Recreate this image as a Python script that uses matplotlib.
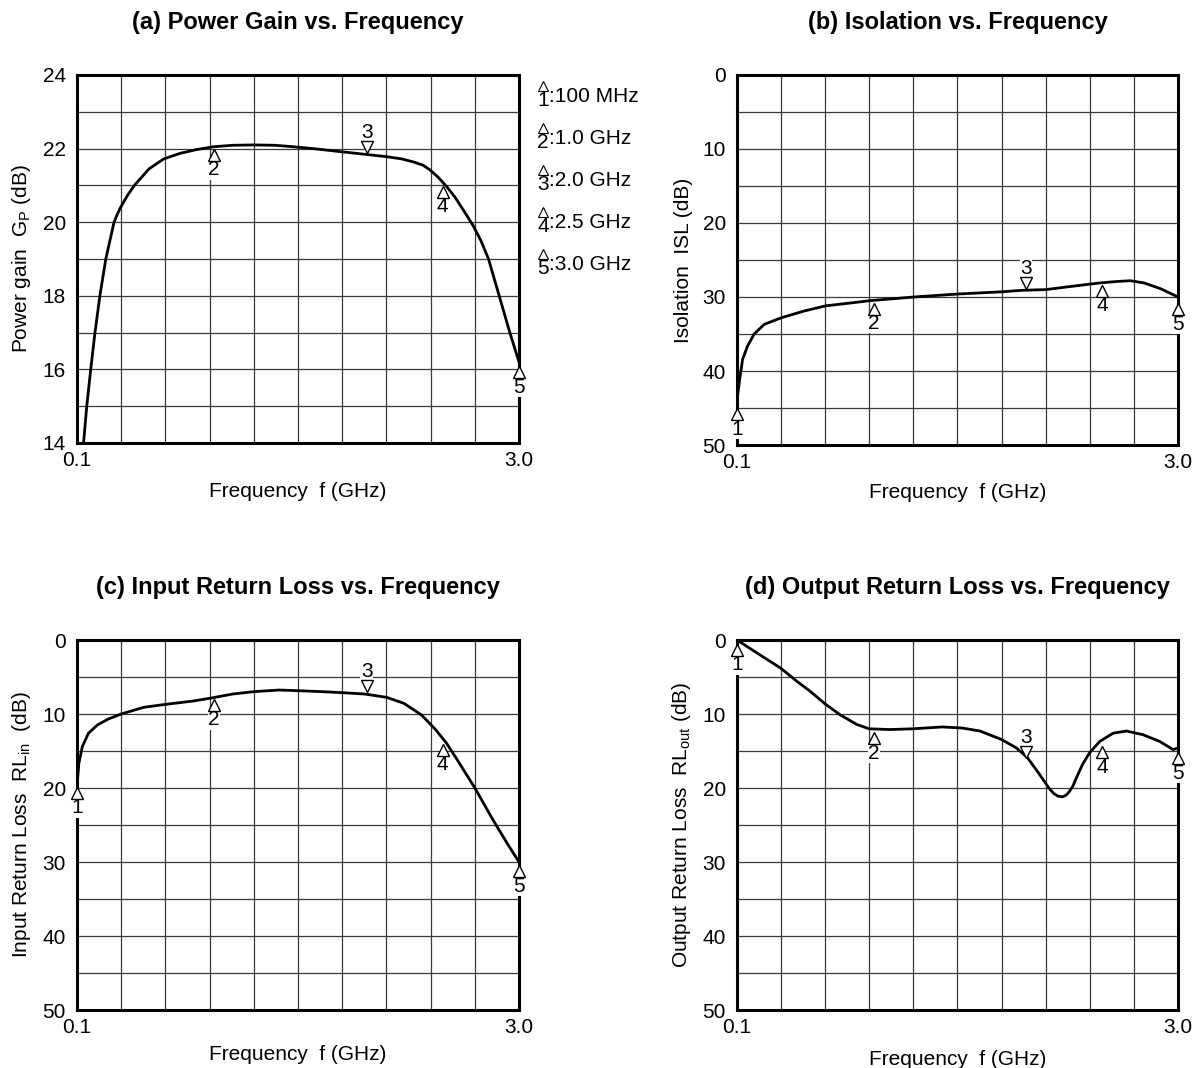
import numpy as np
import matplotlib
matplotlib.use("Agg")
import matplotlib.pyplot as plt
from matplotlib.lines import Line2D
from matplotlib.transforms import offset_copy

plt.rcParams['font.family'] = ['Liberation Sans', 'DejaVu Sans']
plt.rcParams['mathtext.fontset'] = 'custom'
plt.rcParams['mathtext.rm'] = 'Liberation Sans'
plt.rcParams['mathtext.it'] = 'Liberation Sans:italic'

# marker frequencies (GHz)
mk_freq = [0.1, 1.0, 2.0, 2.5, 3.0]
mk_names = ['100 MHz', '1.0 GHz', '2.0 GHz', '2.5 GHz', '3.0 GHz']

# (a) power gain
gain_f = [0.143, 0.164, 0.190, 0.218, 0.250, 0.289, 0.343, 0.365, 0.383, 0.43, 0.476, 0.573, 0.669,
          0.776, 0.88, 0.994, 1.12, 1.257, 1.40, 1.52, 1.65, 1.80, 1.978, 2.132, 2.23, 2.305,
          2.37, 2.416, 2.47, 2.525, 2.58, 2.635, 2.70, 2.75, 2.80, 2.87, 2.94, 3.0]
gain_db = [14.0, 15.0, 16.0, 17.0, 18.0, 19.0, 20.0, 20.22, 20.38, 20.72, 21.0, 21.45, 21.72,
           21.87, 21.97, 22.05, 22.09, 22.10, 22.09, 22.05, 22.0, 21.93, 21.85, 21.78, 21.72, 21.64,
           21.55, 21.42, 21.22, 20.97, 20.68, 20.33, 19.9, 19.5, 19.0, 18.0, 17.0, 16.2]
gain_mk = [None, 22.0, 21.86, 21.0, 16.1]

# (b) isolation
isl_f = [0.1, 0.103, 0.115, 0.137, 0.170, 0.213, 0.279, 0.392, 0.540, 0.682, 0.85, 0.971,
         1.262, 1.548, 1.838, 1.972, 2.129, 2.285, 2.486, 2.60, 2.687, 2.777, 2.888, 3.0]
isl_db = [45.0, 43.5, 41.5, 38.4, 36.6, 35.0, 33.7, 32.8, 31.9, 31.2, 30.8, 30.5,
          30.0, 29.6, 29.3, 29.1, 29.0, 28.6, 28.1, 27.9, 27.8, 28.1, 28.9, 30.0]
isl_mk = [45.0, 30.7, 29.0, 28.3, 30.8]

# (c) input return loss
rlin_f = [0.1, 0.112, 0.135, 0.175, 0.233, 0.303, 0.390, 0.537, 0.680, 0.865, 0.970, 1.122,
          1.260, 1.426, 1.550, 1.707, 1.842, 1.987, 2.132, 2.245, 2.361, 2.455, 2.525, 2.595,
          2.712, 2.829, 2.923, 3.0]
rlin_db = [19.8, 16.7, 14.4, 12.6, 11.5, 10.7, 10.0, 9.1, 8.7, 8.24, 7.88, 7.30,
           6.98, 6.76, 6.85, 6.98, 7.12, 7.30, 7.75, 8.56, 10.14, 12.16, 13.96, 16.2,
           20.05, 24.3, 27.5, 30.0]
rlin_mk = [19.8, 7.9, 7.1, 14.0, 30.4]

# (d) output return loss
rlout_f = [0.1, 0.235, 0.387, 0.495, 0.582, 0.680, 0.778, 0.886, 0.969, 1.104, 1.256, 1.451,
           1.582, 1.698, 1.84, 1.938, 2.01, 2.084, 2.151, 2.18, 2.21, 2.24, 2.265, 2.285,
           2.31, 2.33, 2.375, 2.42, 2.486, 2.573, 2.661, 2.77, 2.879, 2.967, 3.0]
rlout_db = [0.0, 1.8, 3.8, 5.6, 6.95, 8.65, 10.1, 11.4, 12.0, 12.1, 12.0, 11.75,
            11.9, 12.3, 13.45, 14.6, 15.9, 18.0, 20.0, 20.7, 21.1, 21.2, 20.95, 20.5,
            19.7, 18.7, 16.7, 15.2, 13.7, 12.6, 12.3, 12.8, 13.7, 14.8, 14.6]
rlout_mk = [0.45, 12.4, 16.0, 14.3, 15.1]

W, H = 1196, 1068
fig = plt.figure(figsize=(W / 100, H / 100), dpi=100)


def make_axes(left, top, right, bottom):
    return fig.add_axes([left / W, 1 - bottom / H, (right - left) / W, (bottom - top) / H])


def setup(ax, title, ylabel, ylim, ymajor, ystep, xlab_y):
    ax.set_xlim(0.1, 3.0)
    ax.set_ylim(*ylim)
    ax.set_xticks([0.1, 3.0])
    ax.set_xticklabels(['0.1', '3.0'])
    ax.set_xticks(np.linspace(0.1, 3.0, 11), minor=True)
    ax.set_yticks(ymajor)
    ax.set_yticks(np.arange(min(ylim), max(ylim) + 0.01, ystep), minor=True)
    ax.tick_params(which='both', length=0, labelsize=15)
    ax.tick_params(axis='y', pad=8)
    ax.tick_params(axis='x', pad=6)
    ax.grid(True, which='minor', color='#3a3a3a', lw=0.9)
    ax.grid(True, which='major', axis='y', color='#3a3a3a', lw=0.9)
    ax.set_axisbelow(True)
    for s in ax.spines.values():
        s.set_linewidth(2.2)
        s.set_color('black')
    ax.set_title(title, fontsize=17, fontweight='bold', pad=33)
    ax.set_xlabel('Frequency  f (GHz)', fontsize=15)
    ax.xaxis.set_label_coords(0.5, xlab_y)
    ax.xaxis.label.set_va('top')
    ax.set_ylabel(ylabel, fontsize=15)
    ax.yaxis.set_label_coords(-0.1, 0.5)


def markers(ax, vals):
    up = offset_copy(ax.transData, fig=fig, x=0, y=-4.6, units='points')
    dn = offset_copy(ax.transData, fig=fig, x=0, y=4.6, units='points')
    for i, (f, v) in enumerate(zip(mk_freq, vals)):
        if v is None:
            continue
        if i == 2:
            ax.plot([f], [v], marker='v', ms=9, mfc='white', mec='black', mew=1.0,
                    ls='none', transform=dn, clip_on=False, zorder=8)
            ax.annotate(str(i + 1), (f, v), xytext=(0, 8.5), textcoords='offset points',
                        ha='center', va='bottom', fontsize=15, zorder=7, annotation_clip=False,
                        bbox=dict(fc='white', ec='none', pad=0.3))
        else:
            ax.plot([f], [v], marker='^', ms=9, mfc='white', mec='black', mew=1.0,
                    ls='none', transform=up, clip_on=False, zorder=8)
            ax.annotate(str(i + 1), (f, v), xytext=(0, -8.5), textcoords='offset points',
                        ha='center', va='top', fontsize=15, zorder=7, annotation_clip=False,
                        bbox=dict(fc='white', ec='none', pad=0.3))


ax_a = make_axes(77, 75, 519, 443)
ax_b = make_axes(737, 75, 1178, 445)
ax_c = make_axes(77, 640, 519, 1010)
ax_d = make_axes(737, 640, 1178, 1010)

setup(ax_a, '(a) Power Gain vs. Frequency', r'Power gain  G$_\mathrm{P}$ (dB)',
      (14, 24), [14, 16, 18, 20, 22, 24], 1, -0.105)
setup(ax_b, '(b) Isolation vs. Frequency', 'Isolation  ISL (dB)',
      (50, 0), [0, 10, 20, 30, 40, 50], 5, -0.103)
setup(ax_c, '(c) Input Return Loss vs. Frequency', r'Input Return Loss  RL$_\mathrm{in}$  (dB)',
      (50, 0), [0, 10, 20, 30, 40, 50], 5, -0.095)
setup(ax_d, '(d) Output Return Loss vs. Frequency', r'Output Return Loss  RL$_\mathrm{out}$ (dB)',
      (50, 0), [0, 10, 20, 30, 40, 50], 5, -0.108)

for ax, xs, ys in [(ax_a, gain_f, gain_db), (ax_b, isl_f, isl_db),
                   (ax_c, rlin_f, rlin_db), (ax_d, rlout_f, rlout_db)]:
    ax.plot(xs, ys, color='black', lw=2.0, zorder=4, solid_joinstyle='round')

markers(ax_a, gain_mk)
markers(ax_b, isl_mk)
markers(ax_c, rlin_mk)
markers(ax_d, rlout_mk)

# marker legend at the right of panel (a)
rows_y = [97, 139, 181, 223, 265]
for i, (ry, name) in enumerate(zip(rows_y, mk_names)):
    fig.text(543 / W, 1 - (ry + 3) / H, str(i + 1), ha='center', va='center', fontsize=15)
    fig.text(549 / W, 1 - ry / H, ':' + name, ha='left', va='center', fontsize=15)
    fig.add_artist(Line2D([543 / W], [1 - (ry - 11) / H], transform=fig.transFigure,
                          marker='^', ms=7, mfc='white', mec='black', mew=0.8, ls='none'))

fig.savefig('out.png', dpi=100)
